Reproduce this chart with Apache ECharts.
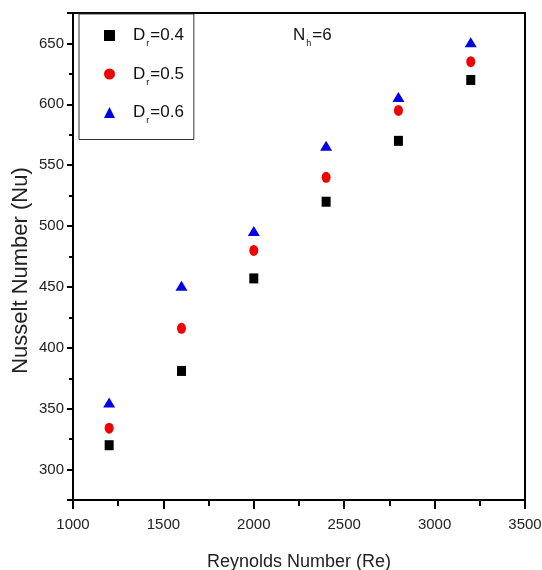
<!DOCTYPE html>
<html>
<head>
<meta charset="utf-8">
<script src="https://cdn.jsdelivr.net/npm/echarts@6/dist/echarts.min.js"></script>
<style>
  html, body { margin: 0; padding: 0; background: #fff; }
  #chart { width: 542px; height: 570px; }
</style>
</head>
<body>
<div id="chart"></div>
<script>
  // Reynolds number on x
  var reynolds = [1200, 1600, 2000, 2400, 2800, 3200];
  // Nusselt number for each diameter ratio
  var nuDr04 = [320, 381, 457, 520, 570, 620];
  var nuDr05 = [334, 416, 480, 540, 595, 635];
  var nuDr06 = [355, 451, 496, 566, 606, 651];
  var seriesNames = ['Dr=0.4', 'Dr=0.5', 'Dr=0.6'];

  var font = '"Liberation Sans", Arial, sans-serif';

  function pairs(ys) {
    return reynolds.map(function (x, i) { return [x, ys[i]]; });
  }

  var chart = echarts.init(document.getElementById('chart'));

  var option = {
    backgroundColor: '#fff',
    animation: false,
    grid: {
      left: 73, right: 17, top: 13, bottom: 70,
      outerBoundsMode: 'none',
      show: true, borderColor: '#000', borderWidth: 2
    },
    legend: {
      orient: 'vertical',
      left: 79, top: 14,
      padding: [13, 10, 14, 25],
      itemGap: 17,
      itemWidth: 11, itemHeight: 11,
      borderColor: '#333', borderWidth: 1,
      data: seriesNames,
      formatter: function (name) {
        return '{g|}{m|D}{s|r}{m|=' + name.split('=')[1] + '}';
      },
      textStyle: {
        rich: {
          g: { width: 13 },
          m: { fontFamily: font, fontSize: 17, color: '#111' },
          s: { fontFamily: font, fontSize: 9, color: '#111', padding: [17, 1, 0, 1] }
        }
      }
    },
    graphic: [{
      type: 'text',
      left: 293, top: 27,
      style: {
        text: '{m|N}{s|h}{m|=6}',
        rich: {
          m: { fontFamily: font, fontSize: 17, fill: '#111' },
          s: { fontFamily: font, fontSize: 9, fill: '#111', padding: [17, 1, 0, 1] }
        }
      }
    }],
    xAxis: {
      type: 'value',
      min: 1000, max: 3500, interval: 500,
      name: 'Reynolds Number (Re)',
      nameLocation: 'middle', nameGap: 53,
      nameTextStyle: { fontFamily: font, fontSize: 18, color: '#222' },
      axisLine: { lineStyle: { color: '#000', width: 2 } },
      axisTick: { length: 9, lineStyle: { color: '#000', width: 2 } },
      minorTick: { show: true, splitNumber: 2, length: 6, lineStyle: { color: '#000', width: 2 } },
      axisLabel: {
        fontFamily: font, fontSize: 15, color: '#222', margin: 17,
        formatter: function (v) { return String(v); }
      },
      splitLine: { show: false }
    },
    yAxis: {
      type: 'value',
      min: 275, max: 675,
      minInterval: 50, maxInterval: 50, splitNumber: 8,
      name: 'Nusselt Number (Nu)',
      nameLocation: 'middle', nameGap: 41,
      nameMoveOverlap: false,
      nameTextStyle: { fontFamily: font, fontSize: 22, color: '#222', padding: [0, 28, 0, 0] },
      axisLine: { lineStyle: { color: '#000', width: 2 } },
      axisTick: { length: 6, lineStyle: { color: '#000', width: 2 } },
      minorTick: { show: true, splitNumber: 2, length: 4, lineStyle: { color: '#000', width: 2 } },
      axisLabel: {
        fontFamily: font, fontSize: 15, color: '#222', margin: 9,
        showMinLabel: false, showMaxLabel: false,
        formatter: function (v) { return String(v); }
      },
      splitLine: { show: false }
    },
    series: [
      {
        name: seriesNames[0], type: 'scatter',
        symbol: 'rect', symbolSize: [9, 10],
        itemStyle: { color: '#000', opacity: 1 },
        data: pairs(nuDr04)
      },
      {
        name: seriesNames[1], type: 'scatter',
        symbol: 'circle', symbolSize: [9, 11],
        itemStyle: { color: '#f00000', opacity: 1 },
        data: pairs(nuDr05)
      },
      {
        name: seriesNames[2], type: 'scatter',
        symbol: 'triangle', symbolSize: [12, 10],
        itemStyle: { color: '#0000e6', opacity: 1 },
        data: pairs(nuDr06)
      }
    ]
  };

  chart.setOption(option);
</script>
</body>
</html>
